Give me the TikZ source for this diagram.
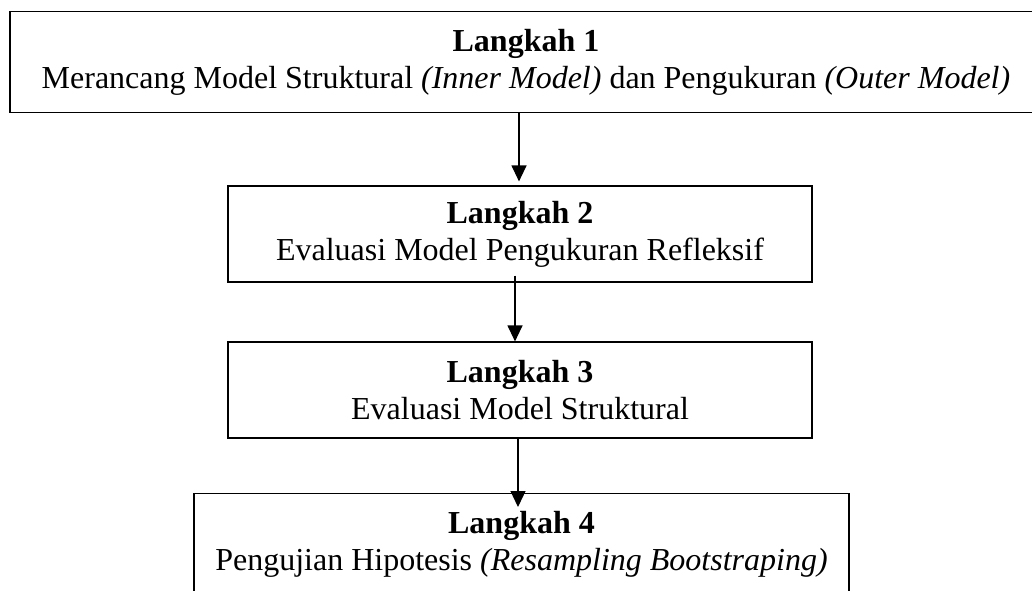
\documentclass[tikz,border=0pt]{standalone}
\usepackage{fontspec}
\setmainfont{Liberation Serif}
\usetikzlibrary{arrows.meta}
\begin{document}
\begin{tikzpicture}[x=1pt,y=-1pt,
  stepbox/.style={draw=black,line width=1.2pt,align=center,inner sep=0pt,
    font=\fontsize{32}{37}\selectfont},
  conn/.style={line width=1.2pt,-{Triangle[width=15pt,length=16pt]}}]
\useasboundingbox (0,0) rectangle (1032,590);
\clip (0,0) rectangle (1032,590);
\node[stepbox,minimum width=1032pt,minimum height=101pt] (b1) at (526,62)
  {\textbf{Langkah 1}\\Merancang Model Struktural \textit{(Inner Model)} dan Pengukuran \textit{(Outer Model)}};
\node[stepbox,minimum width=584pt,minimum height=96pt] (b2) at (520,234)
  {\textbf{Langkah 2}\\Evaluasi Model Pengukuran Refleksif};
\node[stepbox,minimum width=584pt,minimum height=96pt] (b3) at (520,390)
  {\textbf{Langkah 3}\\Evaluasi Model Struktural};
\node[stepbox,minimum width=655pt,minimum height=102pt,anchor=north] (b4) at (521.5,493)
  {\textbf{Langkah 4}\\Pengujian Hipotesis \textit{(Resampling Bootstraping)}};
\draw[conn] ([xshift=-7pt]b1.south) -- ([xshift=-1pt,yshift=4pt]b2.north);
\draw[conn] ([xshift=-5pt,yshift=7pt]b2.south) -- ([xshift=-5pt]b3.north);
\draw[conn] ([xshift=-2pt]b3.south) -- ([xshift=-3.5pt,yshift=-14pt]b4.north);
\end{tikzpicture}
\end{document}
